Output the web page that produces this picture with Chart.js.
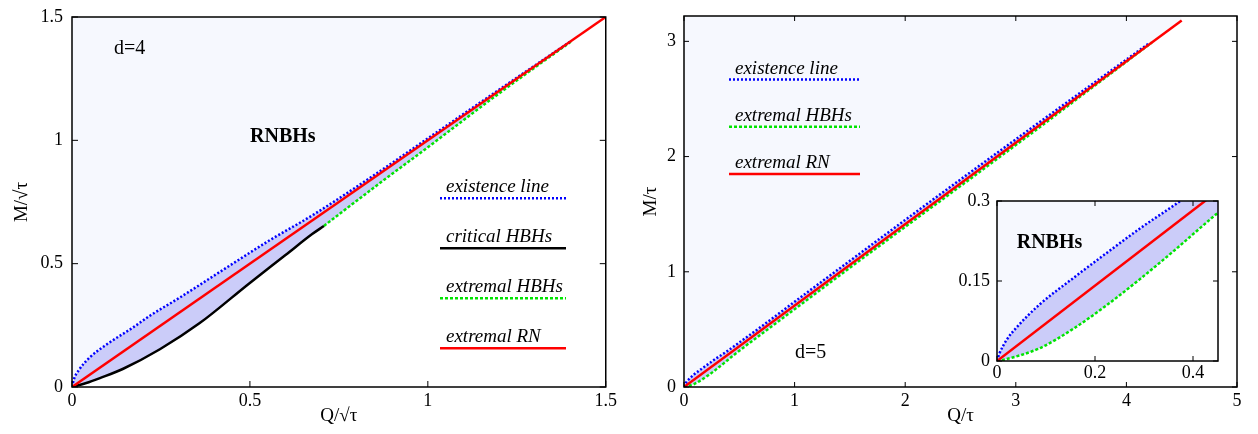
<!DOCTYPE html>
<html lang="en">
<head>
<meta charset="UTF-8">
<title>RNBHs and HBHs domain</title>
<style>
    body {
        margin: 0;
        background: #fff;
        width: 1258px;
        height: 434px;
        overflow: hidden;
        position: relative;
    }
    canvas { position: absolute; }
    #c4 { left: 0; top: -1px; }
    #c5 { left: 620px; top: -1px; }
    #cin { left: 940px; top: 185px; }
</style>
</head>
<body>
<canvas id="c4" width="622" height="435"></canvas>
<canvas id="c5" width="638" height="435"></canvas>
<canvas id="cin" width="300" height="200"></canvas>

<script src="https://cdn.jsdelivr.net/npm/chart.js@4"></script>
<script>
// d=4 panel
const existQ4 = [0, 0.005, 0.02, 0.05, 0.1, 0.17, 0.22, 0.3, 0.43, 0.55, 0.68, 0.85, 1.0, 1.2, 1.4];
const existM4 = [0, 0.03, 0.07, 0.12, 0.175, 0.24, 0.29, 0.36, 0.48, 0.59, 0.7, 0.86, 1.008, 1.205, 1.4];
const critQ4 = [0, 0.04, 0.08, 0.144, 0.247, 0.358, 0.498, 0.6, 0.675, 0.708];
const critM4 = [0, 0.016, 0.037, 0.074, 0.153, 0.258, 0.42, 0.535, 0.62, 0.653];
const extHQ4 = [0.708, 0.85, 1.0, 1.2, 1.406];
const extHM4 = [0.653, 0.81, 0.972, 1.19, 1.404];
const rnQ4 = [0, 1.5];
const rnM4 = [0, 1.5];
const ticksQ4 = [0, 0.5, 1, 1.5];
const ticksM4 = [0, 0.5, 1, 1.5];
const keys4 = ['existence line', 'critical HBHs', 'extremal HBHs', 'extremal RN'];

// d=5 panel (inset uses the same curves)
const existQ5 = [0, 0.005, 0.02, 0.04, 0.087, 0.155, 0.223, 0.291, 0.374, 0.45, 0.7, 1.0, 1.5, 2.0, 3.0, 4.2];
const existM5 = [0, 0.014, 0.04, 0.063, 0.106, 0.155, 0.202, 0.248, 0.3, 0.352, 0.525, 0.74, 1.095, 1.45, 2.15, 2.98];
const extHQ5 = [0, 0.012, 0.087, 0.155, 0.223, 0.291, 0.359, 0.451, 0.7, 1.0, 1.5, 2.0, 3.0, 4.23];
const extHM5 = [0, 0.002, 0.024, 0.06, 0.104, 0.153, 0.205, 0.278, 0.46, 0.675, 1.035, 1.39, 2.1, 2.99];
const rnQ5 = [0, 4.5];
const rnM5 = [0, 3.18];
const ticksQ5 = [0, 1, 2, 3, 4, 5];
const ticksM5 = [0, 1, 2, 3];
const ticksQin = [0, 0.2, 0.4];
const ticksMin = [0, 0.15, 0.3];
const keys5 = ['existence line', 'extremal HBHs', 'extremal RN'];

const BLUE = '#0000ff', GREEN = '#00e400', RED = '#ff0000', BLACK = '#000000';
const LIGHT = '#f6f8fe', DARK = '#cbccf9', NONE = 'rgba(0,0,0,0)';
const SERIF = '"Liberation Serif", "Times New Roman", serif';
const tickFont = {family: SERIF, size: 18, lineHeight: 1};
const titleFont = {family: SERIF, size: 19, lineHeight: 1.2};

function pts(xs, ys) {
    return xs.map((x, i) => ({x: x, y: ys[i]}));
}

// frame box + inward tick marks on all sides
const framePlugin = {
    id: 'frame',
    afterDatasetsDraw(chart, args, o) {
        const {ctx, chartArea: a, scales: {x, y}} = chart;
        const len = o.len;
        ctx.save();
        ctx.strokeStyle = '#000';
        ctx.lineWidth = 1;
        ctx.beginPath();
        x.ticks.forEach(t => {
            const px = x.getPixelForValue(t.value);
            ctx.moveTo(px, a.bottom); ctx.lineTo(px, a.bottom - len);
            if (o.top) { ctx.moveTo(px, a.top); ctx.lineTo(px, a.top + len); }
        });
        y.ticks.forEach(t => {
            const py = y.getPixelForValue(t.value);
            ctx.moveTo(a.left, py); ctx.lineTo(a.left + len, py);
            ctx.moveTo(a.right, py); ctx.lineTo(a.right - len, py);
        });
        ctx.stroke();
        ctx.lineWidth = 1.5;
        ctx.strokeRect(a.left, a.top, a.right - a.left, a.bottom - a.top);
        ctx.restore();
    }
};

// free text and the hand-placed key
const notesPlugin = {
    id: 'notes',
    afterDraw(chart, args, o) {
        const ctx = chart.ctx;
        ctx.save();
        ctx.textBaseline = 'alphabetic';
        ctx.fillStyle = '#000';
        (o.texts || []).forEach(t => {
            ctx.font = t.font;
            ctx.fillText(t.text, t.x, t.y);
        });
        (o.keys || []).forEach((k, i) => {
            const y = o.keyY + i * o.keyGap;
            ctx.font = 'italic 19px ' + SERIF;
            ctx.fillStyle = '#000';
            ctx.fillText(k.text, o.textX, y);
            ctx.strokeStyle = k.color;
            ctx.lineWidth = 2.5;
            ctx.setLineDash(k.dash ? [k.dash[0], k.dash[1]] : []);
            ctx.beginPath();
            ctx.moveTo(o.lineX0, y + o.lineDy);
            ctx.lineTo(o.lineX1, y + o.lineDy);
            ctx.stroke();
        });
        ctx.restore();
    }
};

function axis(min, max, ticks, pad, size, title, titlePad, vertical) {
    return {
        type: 'linear',
        min: min,
        max: max,
        grid: {display: false, drawTicks: false},
        border: {display: false},
        afterBuildTicks: sc => { sc.ticks = ticks.map(v => ({value: v})); },
        afterFit: sc => { if (vertical) sc.width = size; else sc.height = size; },
        ticks: {padding: pad, color: '#000', font: tickFont, maxRotation: 0, callback: v => String(v)},
        title: {
            display: !!title,
            text: title || '',
            color: '#000',
            font: titleFont,
            padding: {top: titlePad, bottom: titlePad}
        }
    };
}

function line(xs, ys, color, dash, extra) {
    return Object.assign({
        data: pts(xs, ys),
        borderColor: color,
        borderWidth: 2.5,
        borderDash: dash || [],
        cubicInterpolationMode: 'monotone',
        fill: false,
        order: 1
    }, extra || {});
}

function baseOptions(padding, xAxis, yAxis, frame, notes) {
    return {
        responsive: false,
        animation: false,
        devicePixelRatio: 1,
        events: [],
        layout: {padding: padding},
        elements: {point: {radius: 0}},
        plugins: {
            legend: {display: false},
            tooltip: {enabled: false},
            filler: {drawTime: 'beforeDatasetsDraw'},
            frame: frame,
            notes: notes
        },
        scales: {x: xAxis, y: yAxis}
    };
}

// ---- d=4 ----
new Chart(document.getElementById('c4'), {
    type: 'line',
    data: {
        datasets: [
            line(existQ4, existM4, BLUE, [2, 2], {fill: 3, backgroundColor: DARK}),
            line(critQ4, critM4, BLACK),
            line(extHQ4, extHM4, GREEN, [3, 2]),
            line(critQ4.concat(extHQ4.slice(1)), critM4.concat(extHM4.slice(1)), NONE, [], {borderWidth: 1, order: 2}),
            line(rnQ4, rnM4, RED, [], {order: 0}),
            line(rnQ4, rnM4, NONE, [], {borderWidth: 1, fill: 'end', backgroundColor: LIGHT, order: 5})
        ]
    },
    options: baseOptions(
        {top: 0, right: 14, bottom: 0, left: 0},
        axis(0, 1.5, ticksQ4, 5, 47, 'Q/√τ', 6.6, false),
        axis(0, 1.5, ticksM4, 9, 72, 'M/√τ', 11, true),
        {len: 6, top: false},
        {
            texts: [
                {text: 'd=4', x: 114, y: 55, font: '20px ' + SERIF},
                {text: 'RNBHs', x: 250, y: 142.7, font: 'bold 20px ' + SERIF}
            ],
            keys: [
                {text: keys4[0], color: BLUE, dash: [2, 2]},
                {text: keys4[1], color: BLACK},
                {text: keys4[2], color: GREEN, dash: [3, 2]},
                {text: keys4[3], color: RED}
            ],
            keyY: 192.7, keyGap: 50, textX: 446, lineX0: 440, lineX1: 566, lineDy: 6.5
        }
    ),
    plugins: [framePlugin, notesPlugin]
});

// ---- d=5 ----
new Chart(document.getElementById('c5'), {
    type: 'line',
    data: {
        datasets: [
            line(existQ5, existM5, BLUE, [2, 2], {fill: 1, backgroundColor: DARK}),
            line(extHQ5, extHM5, GREEN, [3, 2]),
            line(rnQ5, rnM5, RED, [], {order: 0}),
            line(rnQ5, rnM5, NONE, [], {borderWidth: 1, fill: 'end', backgroundColor: LIGHT, order: 5})
        ]
    },
    options: baseOptions(
        {top: 0, right: 21, bottom: 0, left: 0},
        axis(0, 5, ticksQ5, 5, 47, 'Q/τ', 6.6, false),
        axis(0, 3.22, ticksM5, 8, 64, 'M/τ', 20, true),
        {len: 5, top: true},
        {
            texts: [
                {text: 'd=5', x: 175, y: 359.3, font: '20px ' + SERIF}
            ],
            keys: [
                {text: keys5[0], color: BLUE, dash: [2, 2]},
                {text: keys5[1], color: GREEN, dash: [3, 2]},
                {text: keys5[2], color: RED}
            ],
            keyY: 75, keyGap: 47.2, textX: 115, lineX0: 109, lineX1: 240, lineDy: 5.5
        }
    ),
    plugins: [framePlugin, notesPlugin]
});

// ---- inset (d=5 close to the origin) ----
new Chart(document.getElementById('cin'), {
    type: 'line',
    data: {
        datasets: [
            line(existQ5, existM5, BLUE, [2, 2], {fill: 1, backgroundColor: DARK}),
            line(extHQ5, extHM5, GREEN, [3, 2]),
            line(rnQ5, rnM5, RED, [], {order: 0}),
            line(rnQ5, rnM5, NONE, [], {borderWidth: 1, fill: 'end', backgroundColor: LIGHT, order: 5})
        ]
    },
    options: baseOptions(
        {top: 13, right: 22, bottom: 0, left: 0},
        axis(0, 0.451, ticksQin, 3, 24, '', 0, false),
        axis(0, 0.3, ticksMin, 7, 57, '', 0, true),
        {len: 5, top: true},
        {
            texts: [
                {text: 'RNBHs', x: 76.7, y: 63.3, font: 'bold 20px ' + SERIF}
            ],
            keys: []
        }
    ),
    plugins: [framePlugin, notesPlugin]
});
</script>
</body>
</html>
